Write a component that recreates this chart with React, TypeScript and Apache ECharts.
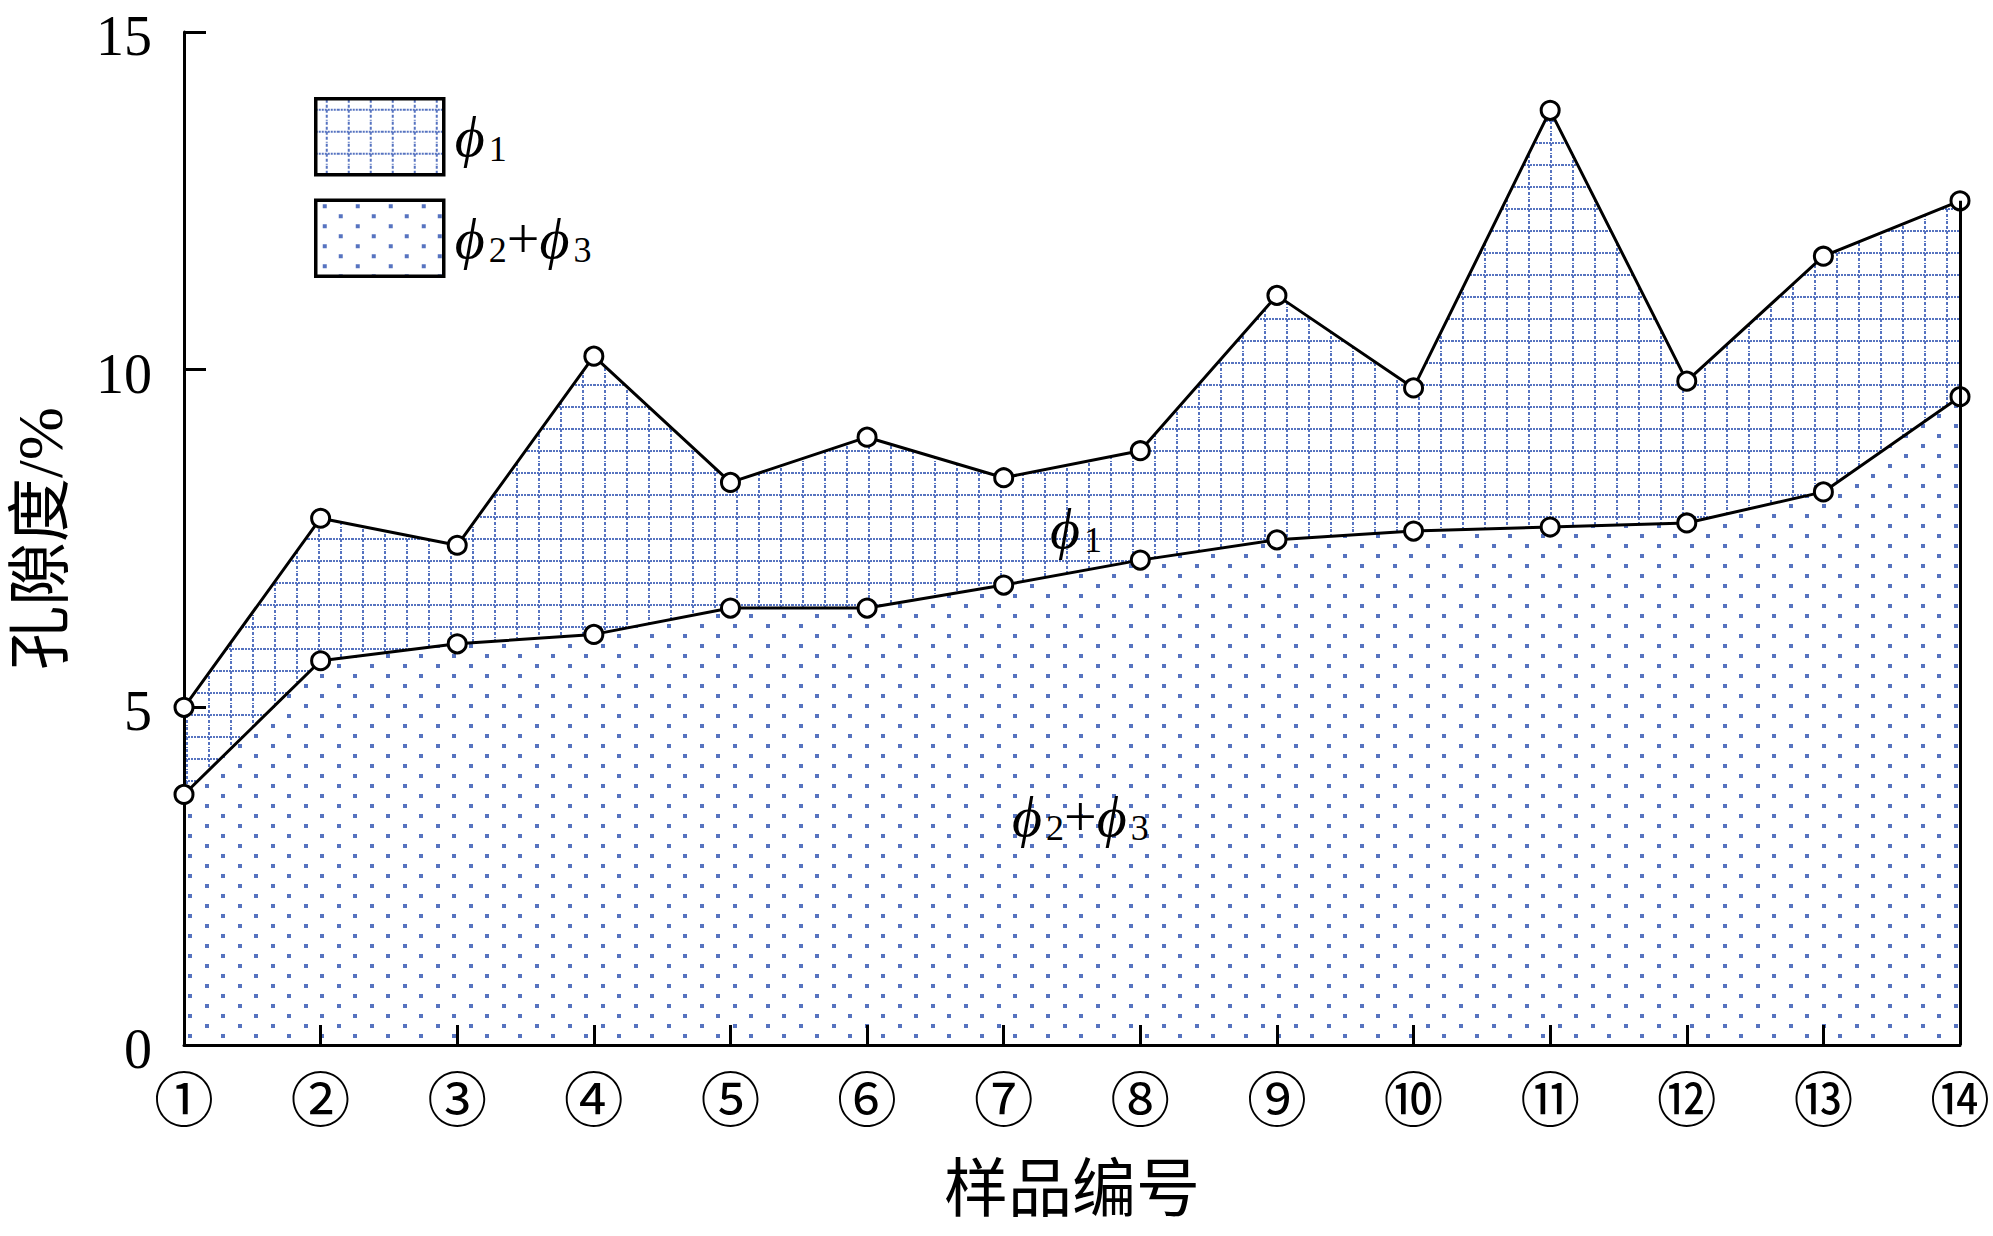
import React, { useEffect, useRef } from 'react';
import * as echarts from 'echarts';

// ---- data ----
const CATEGORIES = ['①', '②', '③', '④', '⑤', '⑥', '⑦', '⑧', '⑨', '⑩', '⑪', '⑫', '⑬', '⑭'];
// total porosity (upper line) = ϕ1 + ϕ2 + ϕ3
const TOTAL_POROSITY = [5.0, 7.8, 7.4, 10.2, 8.33, 9.0, 8.4, 8.8, 11.1, 9.73, 13.84, 9.83, 11.68, 12.5];
// ϕ2 + ϕ3 (lower line)
const PHI23 = [3.71, 5.69, 5.94, 6.08, 6.47, 6.47, 6.81, 7.18, 7.48, 7.61, 7.67, 7.73, 8.19, 9.6];
const Y_MIN = 0;
const Y_MAX = 15;
const Y_INTERVAL = 5;

const SERIF = "'Liberation Serif', 'DejaVu Serif', serif";
const CJK = "'Liberation Serif', 'Noto Sans CJK SC', sans-serif";
const BLUE = '#5673c0';

function makeGridPattern() {
  const S = 22;
  const c = document.createElement('canvas');
  c.width = S;
  c.height = S;
  const ctx = c.getContext('2d')!;
  ctx.fillStyle = '#ffffff';
  ctx.fillRect(0, 0, S, S);
  ctx.fillStyle = BLUE;
  // horizontal dotted line
  for (let x = 0; x < S; x += 3) ctx.fillRect(x, 10, 2, 2);
  // vertical dotted line
  for (let y = 1; y < S; y += 5) ctx.fillRect(10, y, 2, 3);
  return { image: c, repeat: 'repeat', imageWidth: S, imageHeight: S };
}

function makeDotPattern() {
  const W = 33;
  const H = 20;
  const c = document.createElement('canvas');
  c.width = W;
  c.height = H;
  const ctx = c.getContext('2d')!;
  ctx.fillStyle = '#ffffff';
  ctx.fillRect(0, 0, W, H);
  ctx.fillStyle = BLUE;
  ctx.fillRect(7, 4, 4, 4);
  ctx.fillRect(23, 14, 4, 4);
  return { image: c, repeat: 'repeat', imageWidth: W, imageHeight: H };
}

const richPhi = {
  p0: { fontFamily: SERIF, fontStyle: 'italic', fontSize: 58, lineHeight: 60, color: '#000', padding: [0, 0, 0, 6] },
  p: { fontFamily: SERIF, fontStyle: 'italic', fontSize: 58, lineHeight: 60, color: '#000' },
  s: { fontFamily: SERIF, fontSize: 36, lineHeight: 26, verticalAlign: 'bottom', color: '#000', padding: [0, 0, 0, 4] },
  plus: { fontFamily: SERIF, fontSize: 58, lineHeight: 60, color: '#000' },
};

export default function App() {
  const ref = useRef<HTMLDivElement>(null);

  useEffect(() => {
    document.body.style.margin = '0';
    if (!ref.current) return;
    const chart = echarts.init(ref.current, undefined, { renderer: 'svg' });
    const gridPattern = makeGridPattern();
    const dotPattern = makeDotPattern();

    const option: any = {
      animation: false,
      backgroundColor: '#ffffff',
      grid: { left: 177, right: 29, top: 28, bottom: 191 },
      legend: {
        left: 309,
        top: 92,
        orient: 'vertical',
        itemWidth: 128,
        itemHeight: 76,
        itemGap: 22,
        selectedMode: false,
        data: [
          { name: 'phi1', icon: 'rect', itemStyle: { color: gridPattern, borderColor: '#000', borderWidth: 3.5 } },
          { name: 'phi23', icon: 'rect', itemStyle: { color: dotPattern, borderColor: '#000', borderWidth: 3.5 } },
        ],
        formatter: (n: string) => (n === 'phi1' ? '{p0|ϕ}{s|1}' : '{p0|ϕ}{s|2}{plus|+}{p|ϕ}{s|3}'),
        textStyle: { rich: richPhi },
      },
      xAxis: {
        type: 'category',
        data: CATEGORIES,
        boundaryGap: false,
        z: 3,
        axisLine: { lineStyle: { color: '#000', width: 3 } },
        axisTick: { inside: true, length: 20, alignWithLabel: true, lineStyle: { color: '#000', width: 3 } },
        axisLabel: { margin: 20, fontSize: 60, color: '#000', fontFamily: "'Noto Sans CJK SC'", interval: 0 },
        name: '样品编号',
        nameLocation: 'middle',
        nameGap: 112,
        nameTextStyle: { fontSize: 64, color: '#000', fontFamily: CJK },
      },
      yAxis: {
        type: 'value',
        min: Y_MIN,
        max: Y_MAX,
        interval: Y_INTERVAL,
        z: 3,
        axisLine: { show: true, lineStyle: { color: '#000', width: 3 } },
        axisTick: { show: true, inside: true, length: 22, lineStyle: { color: '#000', width: 3 } },
        splitLine: { show: false },
        axisLabel: {
          margin: 32,
          color: '#000',
          formatter: (v: number) => `{v|${v}}`,
          rich: { v: { fontSize: 56, fontFamily: SERIF, color: '#000', lineHeight: 56, padding: [8, 0, 0, 0] } },
        },
        name: '孔隙度/%',
        nameLocation: 'middle',
        nameGap: 112,
        nameTextStyle: { fontSize: 64, color: '#000', fontFamily: CJK },
      },
      series: [
        {
          name: 'phi1',
          type: 'line',
          data: TOTAL_POROSITY,
          z: 2,
          showSymbol: false,
          lineStyle: { color: '#000', width: 3 },
          itemStyle: { color: '#000' },
          areaStyle: { color: gridPattern, opacity: 1 },
          markLine: {
            silent: true,
            symbol: 'none',
            label: { show: false },
            lineStyle: { color: '#000', width: 3, type: 'solid' },
            data: [[
              { coord: [CATEGORIES[CATEGORIES.length - 1], Y_MIN] },
              { coord: [CATEGORIES[CATEGORIES.length - 1], TOTAL_POROSITY[TOTAL_POROSITY.length - 1]] },
            ]],
          },
        },
        {
          name: 'phi23',
          type: 'line',
          data: PHI23,
          z: 2,
          showSymbol: false,
          lineStyle: { color: '#000', width: 3 },
          itemStyle: { color: '#000' },
          areaStyle: { color: dotPattern, opacity: 1 },
        },
        {
          type: 'scatter',
          data: TOTAL_POROSITY,
          z: 4,
          symbol: 'circle',
          symbolSize: 18,
          itemStyle: { color: '#fff', borderColor: '#000', borderWidth: 3, opacity: 1 },
        },
        {
          type: 'scatter',
          data: PHI23,
          z: 4,
          symbol: 'circle',
          symbolSize: 18,
          itemStyle: { color: '#fff', borderColor: '#000', borderWidth: 3, opacity: 1 },
        },
      ],
      graphic: [
        {
          type: 'text',
          x: 1050,
          y: 528,
          z: 10,
          style: { text: '{p|ϕ}{s|1}', rich: richPhi, verticalAlign: 'middle', align: 'left' },
        },
        {
          type: 'text',
          x: 1012,
          y: 816,
          z: 10,
          style: { text: '{p|ϕ}{s|2}{plus|+}{p|ϕ}{s|3}', rich: richPhi, verticalAlign: 'middle', align: 'left' },
        },
      ],
    };
    chart.setOption(option);
    return () => chart.dispose();
  }, []);

  return <div ref={ref} style={{ width: 1993, height: 1236 }} />;
}
